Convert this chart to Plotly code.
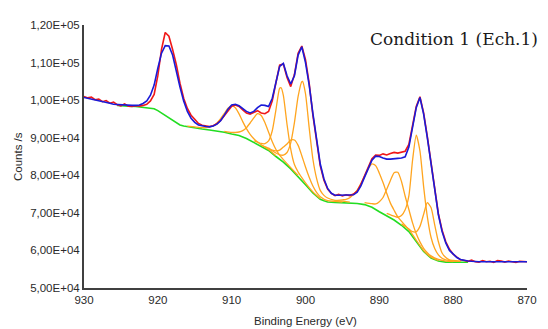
import plotly.graph_objects as go

# ---- raw spectrum (red) and envelope (blue), binding energy grid (eV) ----
energy = [930, 929.5, 929, 928.5, 928, 927.5, 927, 926.5, 926, 925.5,
          925, 924.5, 924, 923.5, 923, 922.5, 922, 921.5, 921, 920.5,
          920, 919.5, 919, 918.5, 918, 917.5, 917, 916.5, 916, 915.5,
          915, 914.5, 914, 913.5, 913, 912.5, 912, 911.5, 911, 910.5,
          910, 909.5, 909, 908.5, 908, 907.5, 907, 906.5, 906, 905.5,
          905, 904.5, 904, 903.5, 903, 902.5, 902, 901.5, 901, 900.5,
          900, 899.5, 899, 898.5, 898, 897.5, 897, 896.5, 896, 895.5,
          895, 894.5, 894, 893.5, 893, 892.5, 892, 891.5, 891, 890.5,
          890, 889.5, 889, 888.5, 888, 887.5, 887, 886.5, 886, 885.5,
          885, 884.5, 884, 883.5, 883, 882.5, 882, 881.5, 881, 880.5,
          880, 879.5, 879, 878.5, 878, 877.5, 877, 876.5, 876, 875.5,
          875, 874.5, 874, 873.5, 873, 872.5, 872, 871.5, 871, 870.5, 870]

raw_counts = [101000, 100600, 100800, 100100, 100300, 99600, 99900, 99200, 99500, 98800,
              98500, 99000, 98400, 98300, 98500, 98400, 98600, 98900, 99800, 101500,
              106500, 113500, 118000, 117000, 113500, 109500, 104500, 100500, 97800, 96000,
              94900, 93800, 93300, 93200, 93000, 93200, 93700, 94600, 95800, 97300,
              98400, 98700, 98300, 97400, 96600, 96300, 96700, 97200, 96600, 96400,
              97000, 99800, 104700, 109300, 109600, 106000, 103600, 106800, 112500, 114400,
              110800, 104500, 96000, 88700, 82500, 78700, 76300, 75200, 74600, 74900,
              74500, 74800, 74600, 75000, 75800, 77600, 79900, 82300, 84400, 85400,
              85300, 85700, 85400, 85800, 86100, 85900, 86200, 86400, 88200, 93400,
              98300, 100900, 96600, 90300, 83300, 75800, 69700, 65400, 62300, 60300,
              59000, 58200, 57500, 57300, 57100, 57400, 57000, 56900, 57300, 57000,
              57100, 56800, 57300, 57200, 56900, 57200, 57000, 56800, 57100, 57000, 57000]

envelope = [100700, 100500, 100300, 100100, 99900, 99650, 99400, 99150, 98900, 98800,
            98700, 98650, 98600, 98600, 98600, 98700, 99100, 99800, 101300, 104000,
            108500, 112500, 114500, 114400, 112000, 107500, 103500, 99800, 97000, 95200,
            94100, 93400, 93100, 93000, 92900, 93100, 93600, 94500, 96000, 97600,
            98700, 98900, 98500, 97800, 97000, 96600, 97000, 98000, 98700, 98600,
            98300, 100500, 105000, 109000, 109800, 106500, 104300, 106500, 112000, 114200,
            110000, 104000, 96500, 89000, 83000, 79000, 76500, 75200, 74700, 74700,
            74700, 74700, 74700, 74800, 75500, 77200, 79500, 82000, 84000, 85100,
            85000, 84600, 84300, 84300, 84500, 84500, 84600, 84900, 87500, 93000,
            98000, 100700, 96300, 90000, 83000, 75500, 69500, 65000, 62000, 60000,
            58900, 58100, 57600, 57300, 57200, 57100, 57000, 57000, 57000, 57000,
            57000, 57000, 57000, 57000, 57000, 57000, 57000, 57000, 57000, 57000, 57000]

# ---- Shirley background (green) ----
bg_energy = [925.5, 925, 924, 923, 922, 921.5, 921, 920.5, 920, 919.5,
             919, 918.5, 918, 917.5, 917, 916.5, 916, 915, 914, 913,
             912, 911, 910, 909, 908, 907, 906, 905, 904, 903,
             902, 901, 900, 899, 898, 897.5, 897, 896, 895, 894,
             893, 892, 891, 890, 889, 888, 887, 886, 885, 884,
             883, 882, 881, 880, 879, 878]
bg_counts = [98600, 98500, 98400, 98300, 98100, 98000, 97900, 97700, 97200, 96600,
             95900, 95200, 94600, 94000, 93400, 93100, 92900, 92600, 92300, 92050,
             91800, 91450, 91000, 90600, 89800, 88800, 87700, 86600, 85000, 83500,
             81700, 79700, 77500, 75300, 73600, 73200, 72900, 72800, 72700, 72600,
             72500, 72200, 71500, 70300, 69300, 68100, 66700, 65000, 62400, 59700,
             58000, 57200, 56900, 56850, 56850, 56850]

# ---- fitted components (orange), counts incl. background ----
comp_a_x = [916, 915, 914, 913.5, 913, 912.5, 912, 911.5, 911, 910.5, 910, 909.5,
            909, 908.5, 908, 907.5, 907, 906.5, 906, 905, 904]
comp_a_y = [93100, 92880, 92680, 92700, 92810, 93180, 93910, 95070, 96430, 97840, 98550, 97970,
            96340, 94280, 92440, 90890, 89710, 88850, 88150, 86860, 85190]

comp_b_x = [911, 910, 909.5, 909, 908.5, 908, 907.5, 907, 906.5, 906, 905.5, 905,
            904.5, 904, 903.5, 903, 902, 901]
comp_b_y = [91700, 91420, 91390, 91520, 91880, 92660, 93920, 95270, 96400, 95930, 94040, 91470,
            88910, 86850, 85340, 84170, 82040, 79950]

comp_c_x = [907, 906, 905.5, 905, 904.5, 904, 903.5, 903.3, 903, 902.5, 902, 901.5,
            901, 900.5, 900, 899, 898]
comp_c_y = [89190, 88480, 88420, 89140, 91850, 97480, 103170, 103300, 101250, 93520, 86970, 82850,
            80870, 79380, 77990, 75590, 73800]

comp_d_x = [905, 904, 903.5, 903, 902.5, 902, 901.5, 901, 900.5, 900.4, 900, 899.5,
            899, 898.5, 898, 897.5, 897, 896, 895, 894]
comp_d_y = [87130, 85930, 85450, 85360, 86060, 88620, 94000, 100980, 104930, 105000, 101700, 92630,
            84340, 79190, 75990, 74660, 73960, 73330, 73100, 72870]

comp_e_x = [906, 905, 904.5, 904, 903.5, 903, 902.5, 902, 901.5, 901, 900.5, 900,
            899.5, 899, 898.5, 898, 897, 896, 895]
comp_e_y = [88050, 87210, 86670, 86480, 86690, 87500, 88340, 89360, 89400, 87970, 85210, 82200,
            79450, 77130, 75440, 74300, 73250, 73060, 72870]

comp_f_x = [896, 895, 894.5, 894, 893.5, 893, 892.5, 892, 891.5, 891, 890.5, 890,
            889.5, 889, 888.5, 888, 887.5, 887, 886.5, 886, 885, 884, 883, 882]
comp_f_y = [73270, 73470, 73590, 74020, 74910, 76040, 77780, 79750, 81760, 83060, 82580, 80570,
            78060, 75200, 72590, 70700, 68930, 67760, 66620, 65590, 62750, 59940, 58180, 57320]

comp_g_x = [892, 891, 890.5, 890, 889.5, 889, 888.5, 888, 887.5, 887, 886.5, 886,
            885.5, 885, 884.5, 884, 883.5, 883, 882, 881, 880]
comp_g_y = [72740, 72440, 72370, 72980, 74090, 76270, 78620, 80700, 80800, 78360, 74430, 70900,
            67320, 64410, 62270, 60570, 59400, 58540, 57600, 57170, 57050]

comp_h_x = [889, 888, 887.5, 887, 886.5, 886, 885.5, 885, 884.5, 884, 883.5, 883,
            882.5, 882, 881.5, 881, 880, 879]
comp_h_y = [69870, 69100, 68830, 69270, 70800, 74500, 84000, 90700, 86500, 77000, 69000, 63500,
            60500, 58800, 57900, 57470, 57190, 57080]

comp_i_x = [887, 886, 885.5, 885, 884.5, 884, 883.5, 883, 882.5, 882, 881.5, 881,
            880.5, 880, 879]
comp_i_y = [67060, 65710, 64980, 64960, 66400, 69640, 72700, 71400, 66800, 62300, 59300, 58100,
            57500, 57350, 57130]

components = [(comp_a_x, comp_a_y), (comp_b_x, comp_b_y), (comp_c_x, comp_c_y),
              (comp_d_x, comp_d_y), (comp_e_x, comp_e_y), (comp_f_x, comp_f_y),
              (comp_g_x, comp_g_y), (comp_h_x, comp_h_y), (comp_i_x, comp_i_y)]

x_ticks = [930, 920, 910, 900, 890, 880, 870]
x_tick_labels = ["930", "920", "910", "900", "890", "880", "870"]
y_ticks = [50000, 60000, 70000, 80000, 90000, 100000, 110000, 120000]
y_tick_labels = ["5,00E+04", "6,00E+04", "7,00E+04", "8,00E+04",
                 "9,00E+04", "1,00E+05", "1,10E+05", "1,20E+05"]

fig = go.Figure()

fig.add_trace(go.Scatter(x=bg_energy, y=bg_counts, mode="lines",
                         line=dict(color="#22dd22", width=1.6), showlegend=False))
for cx, cy in components:
    fig.add_trace(go.Scatter(x=cx, y=cy, mode="lines",
                             line=dict(color="#ffa51f", width=1.3, shape="spline", smoothing=0.6),
                             showlegend=False))
fig.add_trace(go.Scatter(x=energy, y=raw_counts, mode="lines",
                         line=dict(color="#f01818", width=1.6), showlegend=False))
fig.add_trace(go.Scatter(x=energy, y=envelope, mode="lines",
                         line=dict(color="#1a1ad8", width=1.6), showlegend=False))

tick_font = dict(family="Liberation Sans, Arial, sans-serif", size=11.5, color="#2a2a2a")

# page body has an 8px default margin, so the figure is sized to fit inside it
fig.update_layout(
    width=540, height=321,
    margin=dict(l=76, r=17, t=11, b=41),
    paper_bgcolor="white", plot_bgcolor="white",
    xaxis=dict(range=[930, 870], tickvals=x_ticks, ticktext=x_tick_labels,
               showgrid=False, zeroline=False, showline=True, linecolor="#404040",
               linewidth=2, ticks="", tickfont=tick_font),
    yaxis=dict(range=[50000, 120000], tickvals=y_ticks, ticktext=y_tick_labels,
               showgrid=False, zeroline=False, showline=True, linecolor="#404040",
               linewidth=2, ticks="", tickfont=tick_font),
    annotations=[
        dict(text="Condition 1 (Ech.1)", xref="paper", yref="paper",
             x=1.03, y=0.945, xanchor="right", yanchor="middle", showarrow=False,
             font=dict(family="DejaVu Serif, Liberation Serif, serif", size=17, color="#1a1a1a")),
        dict(text="Binding Energy (eV)", xref="paper", yref="paper",
             x=0.5, y=-0.126, xanchor="center", yanchor="middle", showarrow=False,
             font=dict(family="Liberation Sans, Arial, sans-serif", size=11.5, color="#2a2a2a")),
        dict(text="Counts /s", xref="paper", yref="paper", textangle=-90,
             x=-0.150, y=0.5, xanchor="center", yanchor="middle", showarrow=False,
             font=dict(family="Liberation Sans, Arial, sans-serif", size=11.5, color="#2a2a2a")),
    ],
)

fig.write_html("out.html")
